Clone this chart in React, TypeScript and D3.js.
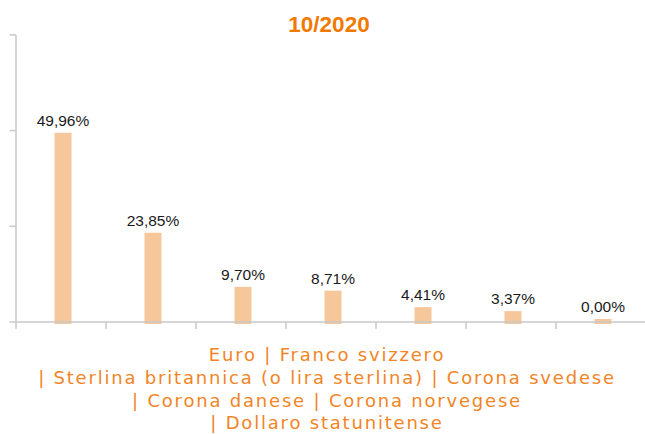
import React from "react";
import * as d3 from "d3";

const title = "10/2020";
const categories = [
  "Euro",
  "Franco svizzero",
  "Sterlina britannica (o lira sterlina)",
  "Corona svedese",
  "Corona danese",
  "Corona norvegese",
  "Dollaro statunitense",
];
const values = [49.96, 23.85, 9.7, 8.71, 4.41, 3.37, 0.0];
const valueLabels = ["49,96%", "23,85%", "9,70%", "8,71%", "4,41%", "3,37%", "0,00%"];
const tickValues = [0, 25, 50, 75];
const legendLines = [
  "Euro | Franco svizzero",
  "| Sterlina britannica (o lira sterlina) | Corona svedese",
  "| Corona danese | Corona norvegese",
  "| Dollaro statunitense",
];

const W = 645;
const H = 434;
const axisColor = "#c9c9c9";
const barColor = "#f6c79b";
const orange = "#f07a00";
const labelOrange = "#f28526";

export default function App() {
  const x = d3.scaleBand<string>().domain(categories).range([16, 646]).padding(0);
  const y = d3.scaleLinear().domain([0, 75.5]).range([324, 35]);
  const axisY = y(0) - 2;
  const barW = 17;
  const boundaries = d3.range(categories.length + 1).map((i) => 16 + i * x.bandwidth());

  return (
    <svg
      width={W}
      height={H}
      style={{ position: "absolute", left: 0, top: 0, background: "#fff" }}
    >
      <text
        x={329}
        y={32}
        textAnchor="middle"
        fontFamily="'Liberation Sans', Arial, sans-serif"
        fontWeight="bold"
        fontSize={22.5}
        fill={orange}
      >
        {title}
      </text>

      {/* bars */}
      {categories.map((c, i) => {
        const cx = (x(c) as number) + x.bandwidth() / 2 + 2;
        const top = Math.min(y(values[i]), y(0) - 5);
        return (
          <g key={c}>
            <rect x={cx - barW / 2} y={top} width={barW} height={y(0) - top} fill={barColor} />
            <text
              x={cx}
              y={top - 7}
              textAnchor="middle"
              fontFamily="'Liberation Sans', Arial, sans-serif"
              fontSize={15.5}
              fill="#1a1a1a"
            >
              {valueLabels[i]}
            </text>
          </g>
        );
      })}

      {/* y axis */}
      <line x1={16} x2={16} y1={y(75) - 2} y2={axisY + 0.75} stroke={axisColor} strokeWidth={1.5} />
      {tickValues.map((t) => (
        <line key={t} x1={9.5} x2={16} y1={y(t) - 2} y2={y(t) - 2} stroke={axisColor} strokeWidth={1.5} />
      ))}

      {/* x axis */}
      <line x1={16} x2={W} y1={axisY} y2={axisY} stroke={axisColor} strokeWidth={1.5} />
      {boundaries.map((bx, i) => (
        <line key={i} x1={bx} x2={bx} y1={axisY} y2={axisY + 7} stroke={axisColor} strokeWidth={1.5} />
      ))}

      {/* category legend text */}
      {legendLines.map((l, i) => (
        <text
          key={i}
          x={327}
          y={361 + i * 22.8}
          textAnchor="middle"
          fontFamily="'DejaVu Sans', Verdana, sans-serif"
          fontSize={18}
          letterSpacing={1.8}
          fill={labelOrange}
        >
          {l}
        </text>
      ))}
    </svg>
  );
}
